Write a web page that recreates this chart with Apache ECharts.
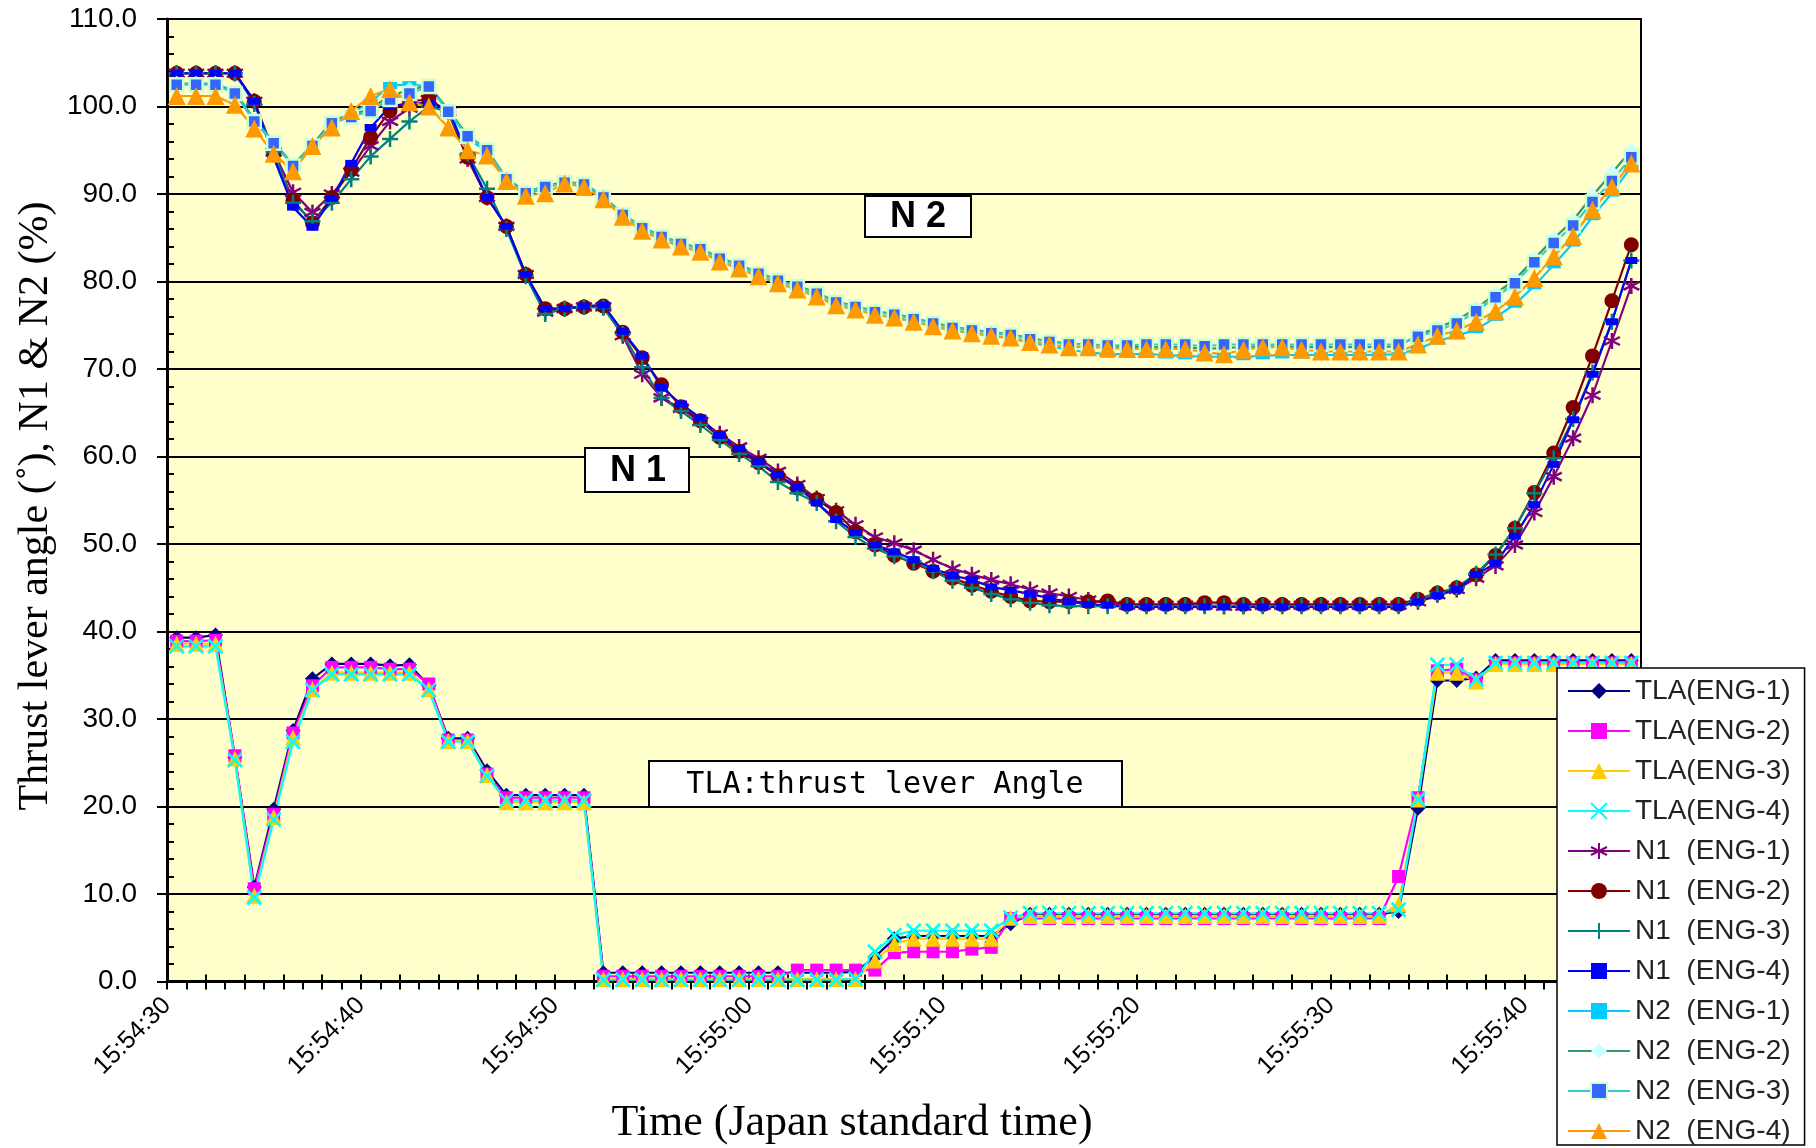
<!DOCTYPE html>
<html><head><meta charset="utf-8">
<script src="https://cdn.jsdelivr.net/npm/echarts@6/dist/echarts.min.js"></script>
<style>html,body{margin:0;padding:0;background:#fff}#c{width:1816px;height:1148px}</style>
</head><body><div id="c"></div>
<script>
// ---- tick labels / categories (boundaries, 1 s apart) ----
const times = [
 '15:54:30','15:54:31','15:54:32','15:54:33','15:54:34','15:54:35','15:54:36','15:54:37','15:54:38','15:54:39',
 '15:54:40','15:54:41','15:54:42','15:54:43','15:54:44','15:54:45','15:54:46','15:54:47','15:54:48','15:54:49',
 '15:54:50','15:54:51','15:54:52','15:54:53','15:54:54','15:54:55','15:54:56','15:54:57','15:54:58','15:54:59',
 '15:55:00','15:55:01','15:55:02','15:55:03','15:55:04','15:55:05','15:55:06','15:55:07','15:55:08','15:55:09',
 '15:55:10','15:55:11','15:55:12','15:55:13','15:55:14','15:55:15','15:55:16','15:55:17','15:55:18','15:55:19',
 '15:55:20','15:55:21','15:55:22','15:55:23','15:55:24','15:55:25','15:55:26','15:55:27','15:55:28','15:55:29',
 '15:55:30','15:55:31','15:55:32','15:55:33','15:55:34','15:55:35','15:55:36','15:55:37','15:55:38','15:55:39',
 '15:55:40','15:55:41','15:55:42','15:55:43','15:55:44','15:55:45','15:55:46'
];
const sampleTimes = times.slice(0, 76);
const yMin = 0, yMax = 110, yStep = 10;

const seriesNames = ['TLA(ENG-1)','TLA(ENG-2)','TLA(ENG-3)','TLA(ENG-4)',
  'N1  (ENG-1)','N1  (ENG-2)','N1  (ENG-3)','N1  (ENG-4)',
  'N2  (ENG-1)','N2  (ENG-2)','N2  (ENG-3)','N2  (ENG-4)'];

// ---- values ----
const tla1 = [39.3,39.3,39.6,25.6,10.8,19.7,28.7,34.6,36.3,36.3,
 36.3,36.1,36.2,33.8,27.8,27.8,24.1,21.3,21.3,21.3,
 21.3,21.3,1.0,1.0,1.0,1.0,1.0,1.0,1.0,1.0,
 1.0,1.0,1.0,1.0,1.0,1.1,2.8,4.9,5.2,5.2,
 5.2,5.2,5.2,6.6,7.7,7.7,7.7,7.7,7.7,7.7,
 7.7,7.7,7.7,7.7,7.7,7.7,7.7,7.7,7.7,7.7,
 7.7,7.7,7.7,8.0,19.8,34.4,34.4,34.7,36.7,36.7,
 36.7,36.7,36.7,36.7,36.7,36.7];
const tla2 = [38.9,38.9,39.0,25.8,10.6,19.1,28.4,33.8,35.9,35.9,
 35.9,35.7,35.7,34.0,27.6,27.6,23.7,21.0,21.0,21.0,
 21.0,21.0,0.6,0.6,0.6,0.6,0.6,0.6,0.6,0.6,
 0.6,0.6,1.3,1.3,1.3,1.3,1.3,3.3,3.4,3.4,
 3.4,3.7,3.9,7.2,7.2,7.2,7.2,7.2,7.2,7.2,
 7.2,7.2,7.2,7.2,7.2,7.2,7.2,7.2,7.2,7.2,
 7.2,7.2,7.2,12.0,21.0,35.5,35.7,34.5,36.4,36.4,
 36.4,36.4,36.4,36.4,36.4,36.4];
const tla3 = [38.6,38.6,38.6,25.5,9.8,18.8,27.9,33.4,35.3,35.3,
 35.3,35.3,35.3,33.4,27.5,27.5,23.6,20.5,20.5,20.5,
 20.5,20.5,0.3,0.3,0.3,0.3,0.3,0.3,0.3,0.3,
 0.3,0.3,0.3,0.3,0.3,0.3,2.4,4.3,4.9,4.9,
 4.9,4.9,4.9,7.3,7.5,7.5,7.5,7.5,7.5,7.5,
 7.5,7.5,7.5,7.5,7.5,7.5,7.5,7.5,7.5,7.5,
 7.5,7.5,7.5,8.8,20.8,35.3,35.3,34.3,36.3,36.3,
 36.3,36.3,36.3,36.3,36.3,36.3];
const tla4 = [38.3,38.3,38.3,25.3,9.6,18.5,27.4,33.3,35.1,35.1,
 35.1,35.1,35.1,33.3,27.4,27.4,23.5,20.7,20.7,20.7,
 20.7,20.7,0.2,0.2,0.2,0.2,0.2,0.2,0.2,0.2,
 0.2,0.2,0.2,0.2,0.2,0.3,3.4,5.3,5.8,5.8,
 5.8,5.8,5.8,7.3,7.8,7.8,7.8,7.8,7.8,7.8,
 7.8,7.8,7.8,7.8,7.8,7.8,7.8,7.8,7.8,7.8,
 7.8,7.8,7.8,8.2,20.8,36.2,36.2,34.5,36.4,36.4,
 36.4,36.4,36.4,36.4,36.4,36.4];

const n1e1 = [103.8,103.8,103.8,103.8,100.6,94.8,90.2,87.9,90.0,92.5,
 95.5,98.3,99.8,100.8,99.4,94.0,89.6,86.3,80.8,76.5,
 76.9,77.1,77.1,73.8,69.4,66.7,65.5,64.0,62.6,61.1,
 59.8,58.3,56.8,55.2,53.8,52.2,50.8,50.1,49.3,48.2,
 47.2,46.5,45.9,45.4,44.8,44.4,44.0,43.6,43.2,43.0,
 43.0,43.0,43.0,43.0,42.9,42.9,43.0,43.0,43.0,43.0,
 43.0,43.0,43.0,43.0,43.4,44.2,44.8,46.1,47.5,49.9,
 53.6,57.7,62.1,67.0,73.2,79.5];
const n1e2 = [103.8,103.8,103.8,103.8,100.6,94.6,89.3,86.7,89.6,92.8,
 96.5,99.5,100.6,100.8,99.4,94.2,89.6,86.3,80.8,76.9,
 76.9,77.1,77.2,74.2,71.3,68.2,65.7,64.1,62.2,60.6,
 59.3,57.8,56.4,55.1,53.6,51.4,49.9,48.7,47.8,46.9,
 46.1,45.3,44.6,44.0,43.5,43.4,43.4,43.4,43.5,43.1,
 43.1,43.1,43.1,43.3,43.3,43.1,43.1,43.1,43.1,43.1,
 43.1,43.1,43.1,43.1,43.7,44.4,45.0,46.5,48.7,51.8,
 55.9,60.4,65.6,71.5,77.8,84.2];
const n1e3 = [103.8,103.8,103.8,103.8,100.3,94.8,89.0,86.9,89.0,91.7,
 94.3,96.3,98.3,100.0,99.4,94.6,90.6,86.0,80.6,76.3,
 76.9,77.1,77.0,74.0,70.2,66.7,65.2,63.6,61.9,60.3,
 58.9,57.1,55.8,54.7,52.6,50.8,49.5,48.6,48.0,46.9,
 45.8,45.0,44.3,43.7,43.3,43.0,42.9,42.9,42.9,42.9,
 42.9,42.9,42.9,42.9,42.9,42.9,42.9,42.9,42.9,42.9,
 42.9,42.9,42.9,42.9,43.6,44.4,45.0,46.6,48.8,51.8,
 55.8,59.8,64.3,69.6,75.4,82.4];
const n1e4 = [103.8,103.8,103.8,103.8,100.6,94.2,88.5,86.2,89.5,93.5,
 97.6,100.0,100.4,100.3,99.8,94.4,89.6,86.3,80.8,76.9,
 76.9,77.2,77.3,74.3,71.5,67.9,66.0,64.4,62.4,60.9,
 59.4,57.9,56.5,54.7,52.8,51.3,49.9,49.1,48.2,47.2,
 46.4,45.9,45.1,44.7,44.3,43.8,43.4,43.1,43.0,42.8,
 42.8,42.8,42.8,42.8,42.8,42.8,42.8,42.8,42.8,42.8,
 42.8,42.8,42.8,42.8,43.4,44.1,44.8,46.5,47.8,50.9,
 54.5,59.1,64.2,69.4,75.4,82.4];

const n2e1 = [102.6,102.6,102.6,101.7,98.5,96.0,93.3,95.6,98.3,99.2,
 100.5,102.4,102.5,102.3,99.6,96.4,94.8,91.6,90.0,90.6,
 91.4,91.0,89.5,87.4,85.8,84.8,84.0,83.4,82.3,81.5,
 80.6,79.8,79.1,78.3,77.3,76.8,76.2,75.9,75.4,74.9,
 74.4,74.1,73.8,73.5,73.0,72.6,72.2,71.9,71.7,71.7,
 71.7,71.6,71.5,71.4,71.4,71.4,71.5,71.6,71.6,71.6,
 71.6,71.6,71.6,71.7,72.3,73.2,73.8,74.5,75.9,77.4,
 79.5,81.9,84.4,87.4,90.1,93.1];
const n2e2 = [102.6,102.6,102.6,101.6,98.4,95.9,93.3,95.6,98.3,99.0,
 99.8,101.2,101.9,102.4,99.6,96.7,95.1,91.8,90.2,90.9,
 91.4,91.2,89.7,87.7,86.2,85.2,84.4,83.8,82.7,81.9,
 81.0,80.2,79.5,78.7,77.7,77.2,76.6,76.3,75.8,75.3,
 74.8,74.5,74.2,74.0,73.5,73.2,72.9,72.8,72.6,72.5,
 72.5,72.5,72.5,72.3,72.4,72.5,72.6,72.6,72.5,72.5,
 72.5,72.5,72.5,72.6,73.9,74.7,75.6,76.9,78.6,80.2,
 82.6,84.9,87.0,89.8,92.4,95.0];
const n2e3 = [102.5,102.5,102.5,101.5,98.3,95.8,93.2,95.5,98.1,98.8,
 99.5,100.8,101.5,102.3,99.4,96.6,95.0,91.7,90.1,90.8,
 91.3,91.1,89.6,87.6,86.1,85.1,84.3,83.7,82.6,81.8,
 80.9,80.1,79.4,78.6,77.6,77.1,76.5,76.2,75.7,75.2,
 74.7,74.4,74.1,73.9,73.4,73.1,72.8,72.8,72.7,72.7,
 72.8,72.8,72.8,72.6,72.8,72.8,72.8,72.8,72.8,72.8,
 72.8,72.8,72.8,72.8,73.7,74.4,75.2,76.6,78.2,79.8,
 82.2,84.4,86.4,89.1,91.5,94.2];
const n2e4 = [101.2,101.2,101.2,100.2,97.5,94.6,92.6,95.5,97.6,99.5,
 101.2,102.0,100.5,100.0,97.6,95.0,94.4,91.5,89.8,90.1,
 91.2,90.8,89.4,87.4,85.8,84.8,84.0,83.4,82.3,81.5,
 80.6,79.8,79.1,78.3,77.3,76.8,76.2,75.9,75.4,74.9,
 74.4,74.1,73.8,73.6,73.1,72.8,72.5,72.5,72.4,72.3,
 72.3,72.3,72.3,71.9,71.7,72.2,72.5,72.5,72.2,72.0,
 72.0,72.0,72.0,72.0,72.8,73.8,74.4,75.4,76.6,78.3,
 80.4,82.9,85.2,88.2,90.8,93.5];

const seriesData = [tla1, tla2, tla3, tla4, n1e1, n1e2, n1e3, n1e4, n2e1, n2e2, n2e3, n2e4];

// ---- styles ----
const X_PATH = 'path://M0,0L10,10M10,0L0,10';
const STAR_PATH = 'path://M5,0L5,10M0.7,2.5L9.3,7.5M9.3,2.5L0.7,7.5';
const PLUS_PATH = 'path://M5,0L5,10M0,5L10,5';
const styles = [
  {line:'#000080', symbol:'diamond', size:15, fill:'#000080'},
  {line:'#FF00FF', symbol:'rect', size:13, fill:'#FF00FF'},
  {line:'#FFCC00', symbol:'triangle', size:16, fill:'#FFCC00'},
  {line:'#00FFFF', symbol:X_PATH, size:14, fill:'#00FFFF', border:'#00FFFF', bw:2.5},
  {line:'#800080', symbol:STAR_PATH, size:16, fill:'#800080', border:'#800080', bw:2.5},
  {line:'#800000', symbol:'circle', size:15, fill:'#800000'},
  {line:'#008080', symbol:PLUS_PATH, size:16, fill:'#008080', border:'#008080', bw:2.5},
  {line:'#0000FF', symbol:'rect', size:[12,7], fill:'#0000FF'},
  {line:'#00CCFF', symbol:'rect', size:[14,7], fill:'#00CCFF'},
  {line:'#339966', symbol:'diamond', size:16, fill:'#CCFFFF'},
  {line:'#33CCCC', symbol:'rect', size:13, fill:'#3366FF', border:'#CCFFCC', bw:2.5},
  {line:'#FF9900', symbol:'triangle', size:18, fill:'#FF9900'}
];

const series = seriesNames.map((name, k) => {
  const s = styles[k];
  return {
    name: name, type: 'line', xAxisIndex: 0, yAxisIndex: 0,
    data: seriesData[k],
    symbol: s.symbol, symbolSize: s.size, showAllSymbol: true,
    lineStyle: {color: s.line, width: 2.2},
    itemStyle: {color: s.fill, borderColor: s.border || s.fill, borderWidth: s.bw || 0},
    emphasis: {disabled: true}
  };
});

const chart = echarts.init(document.getElementById('c'), null, {renderer: 'canvas'});
chart.setOption({
  animation: false,
  backgroundColor: '#ffffff',
  grid: {left: 167, top: 19, width: 1474, height: 962.5, show: true,
         backgroundColor: '#FFFFCC', borderColor: '#000', borderWidth: 2},
  xAxis: [
    {type: 'category', data: sampleTimes, boundaryGap: true, position: 'bottom',
     axisLine: {show: true, lineStyle: {color: '#000', width: 3}},
     axisTick: {show: true, inside: true, interval: 1, length: 7, lineStyle: {color: '#000', width: 2}},
     axisLabel: {show: false}, splitLine: {show: false}},
    {type: 'category', data: times, boundaryGap: false, position: 'bottom',
     axisLine: {show: false},
     axisTick: {show: true, interval: 0, length: 8, lineStyle: {color: '#000', width: 2}},
     axisLabel: {show: true, interval: 9, rotate: 45, margin: 20, fontSize: 25,
                 fontFamily: '"Liberation Sans", Arial, sans-serif', color: '#000'},
     splitLine: {show: false}}
  ],
  yAxis: [
    {type: 'value', min: yMin, max: yMax, interval: yStep, position: 'left',
     axisLine: {show: true, lineStyle: {color: '#000', width: 3}},
     axisTick: {show: true, length: 10, lineStyle: {color: '#000', width: 2}},
     axisLabel: {formatter: v => v.toFixed(1), fontSize: 28, margin: 30,
                 fontFamily: '"Liberation Sans", Arial, sans-serif', color: '#000'},
     splitLine: {show: true, lineStyle: {color: '#000', width: 2}}},
    {type: 'value', min: yMin, max: yMax, interval: yStep, position: 'left',
     axisLine: {show: false}, axisTick: {show: false, inside: true},
     axisLabel: {show: false}, splitLine: {show: false},
     minorTick: {show: true, splitNumber: 5, length: 7, lineStyle: {color: '#000', width: 2}}}
  ],
  legend: {
    orient: 'vertical', left: 1557, top: 668,
    itemWidth: 62, itemHeight: 20, itemGap: 12,
    padding: [9, 14, 0, 10],
    backgroundColor: '#ffffff', borderColor: '#000', borderWidth: 1.5,
    textStyle: {fontSize: 28, lineHeight: 28, color: '#222',
                fontFamily: '"Liberation Sans", Arial, sans-serif'},
    data: seriesNames
  },
  graphic: [
    {type: 'text', x: 36, y: 506, rotation: Math.PI / 2, z: 10,
     style: {text: 'Thrust lever angle (˚), N1 & N2 (%)', fontSize: 42,
             fontFamily: '"Liberation Serif", "Times New Roman", serif', fill: '#000',
             align: 'center', verticalAlign: 'middle'}},
    {type: 'text', x: 852, y: 1123, z: 10,
     style: {text: 'Time (Japan standard time)', fontSize: 44,
             fontFamily: '"Liberation Serif", "Times New Roman", serif', fill: '#000',
             align: 'center', verticalAlign: 'middle'}},
    {type: 'rect', z: 10, shape: {x: 865, y: 196, width: 106, height: 41},
     style: {fill: '#fff', stroke: '#000', lineWidth: 2}},
    {type: 'text', x: 918, y: 217, z: 11,
     style: {text: 'N 2', fontSize: 36, fontWeight: 'bold',
             fontFamily: '"Liberation Sans", Arial, sans-serif', fill: '#000',
             align: 'center', verticalAlign: 'middle'}},
    {type: 'rect', z: 10, shape: {x: 585, y: 448, width: 104, height: 44},
     style: {fill: '#fff', stroke: '#000', lineWidth: 2}},
    {type: 'text', x: 638, y: 471, z: 11,
     style: {text: 'N 1', fontSize: 36, fontWeight: 'bold',
             fontFamily: '"Liberation Sans", Arial, sans-serif', fill: '#000',
             align: 'center', verticalAlign: 'middle'}},
    {type: 'rect', z: 10, shape: {x: 649, y: 761, width: 473, height: 46},
     style: {fill: '#fff', stroke: '#000', lineWidth: 2}},
    {type: 'text', x: 885, y: 785, z: 11,
     style: {text: 'TLA:thrust lever Angle', fontSize: 30,
             fontFamily: '"DejaVu Sans Mono", "Liberation Mono", monospace', fill: '#000',
             align: 'center', verticalAlign: 'middle'}}
  ],
  series: series
});
</script>
</body></html>
